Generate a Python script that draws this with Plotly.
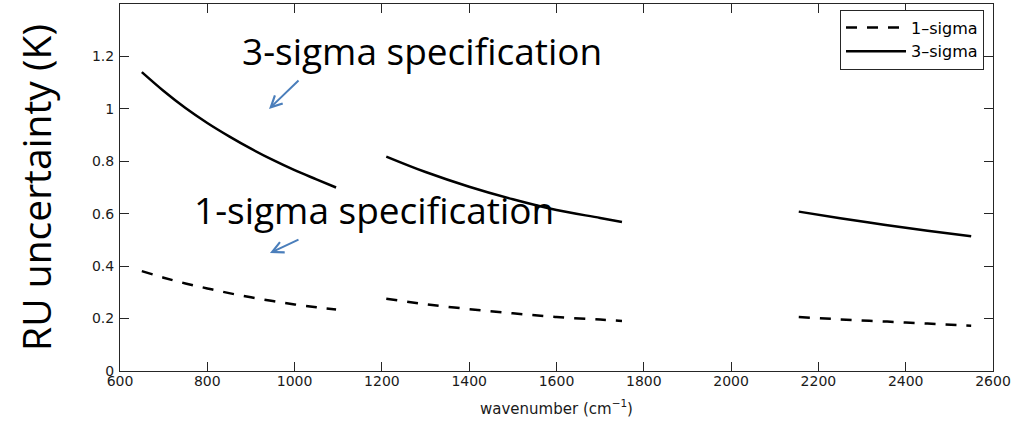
import plotly.graph_objects as go

# Band wavenumbers (cm^-1) and RU uncertainty values (K)
lw_x = [650, 700, 750, 800, 850, 900, 950, 1000, 1050, 1095]
mw_x = [1210, 1300, 1400, 1500, 1600, 1700, 1750]
sw_x = [2155, 2250, 2350, 2450, 2550]

sigma3_lw = [1.14, 1.068, 1.003, 0.946, 0.895, 0.848, 0.805, 0.766, 0.731, 0.70]
sigma3_mw = [0.818, 0.759, 0.703, 0.655, 0.614, 0.584, 0.568]
sigma3_sw = [0.608, 0.583, 0.558, 0.535, 0.514]

sigma1_lw = [0.381, 0.356, 0.334, 0.315, 0.297, 0.281, 0.267, 0.254, 0.243, 0.235]
sigma1_mw = [0.276, 0.255, 0.236, 0.220, 0.206, 0.196, 0.191]
sigma1_sw = [0.206, 0.197, 0.189, 0.181, 0.173]

x_ticks = [600, 800, 1000, 1200, 1400, 1600, 1800, 2000, 2200, 2400, 2600]
y_ticks = [0, 0.2, 0.4, 0.6, 0.8, 1, 1.2]
y_tick_text = ["0", "0.2", "0.4", "0.6", "0.8", "1", "1.2"]

AXC = "#262626"
SMALL = "DejaVu Sans, Liberation Sans, sans-serif"
TICKFONT = dict(family=SMALL, size=14, color="#1a1a1a")
BIG = "Open Sans, Lato, sans-serif"

fig = go.Figure()

def add_band(x, y, name, dash, show):
    fig.add_trace(go.Scatter(
        x=x, y=y, mode="lines", name=name, legendgroup=name, showlegend=show,
        line=dict(color="black", width=2.5, dash=dash, shape="spline", smoothing=1.0),
        hoverinfo="skip",
    ))

add_band(lw_x, sigma1_lw, "1–sigma", "11px,10px", True)
add_band(mw_x, sigma1_mw, "1–sigma", "11px,10px", False)
add_band(sw_x, sigma1_sw, "1–sigma", "11px,10px", False)
add_band(lw_x, sigma3_lw, "3–sigma", "solid", True)
add_band(mw_x, sigma3_mw, "3–sigma", "solid", False)
add_band(sw_x, sigma3_sw, "3–sigma", "solid", False)

fig.update_xaxes(
    range=[600, 2600], tickvals=x_ticks, ticks="inside", ticklen=9, tickcolor=AXC,
    showline=True, linecolor=AXC, linewidth=1, mirror="ticks", showgrid=False,
    zeroline=False, tickfont=TICKFONT, ticklabelstandoff=-3,
    title=dict(text="wavenumber (cm<sup>−1</sup>)", standoff=15,
               font=dict(family=SMALL, size=15, color="#1a1a1a")),
)
fig.update_yaxes(
    range=[0, 1.4], tickvals=y_ticks, ticktext=y_tick_text, ticks="inside", ticklen=9,
    tickcolor=AXC, showline=True, linecolor=AXC, linewidth=1, mirror="ticks",
    showgrid=False, zeroline=False, tickfont=TICKFONT, ticklabelstandoff=2,
    title=dict(text="RU uncertainty (K)", standoff=28,
               font=dict(family=BIG, size=39, color="black")),
)

fig.add_annotation(x=0.137, y=0.874, xref="paper", yref="paper", xanchor="left", yanchor="middle",
                   text="3-sigma specification", showarrow=False,
                   font=dict(family=BIG, size=37, color="black"))
fig.add_annotation(x=0.082, y=0.44, xref="paper", yref="paper", xanchor="left", yanchor="middle",
                   text="1-sigma specification", showarrow=False,
                   font=dict(family=BIG, size=37, color="black"))

ARROW = "#4a7ebb"
fig.add_annotation(x=0.1707, y=0.714, ax=31, ay=-30, xref="paper", yref="paper",
                   axref="pixel", ayref="pixel", text="", showarrow=True,
                   arrowhead=5, arrowsize=1.1, arrowwidth=2, arrowcolor=ARROW)
fig.add_annotation(x=0.1718, y=0.3215, ax=30, ay=-14, xref="paper", yref="paper",
                   axref="pixel", ayref="pixel", text="", showarrow=True,
                   arrowhead=5, arrowsize=1.1, arrowwidth=2, arrowcolor=ARROW)

fig.update_layout(
    width=1024, height=424,
    margin=dict(l=120, r=31, t=4, b=53),
    paper_bgcolor="white", plot_bgcolor="white",
    legend=dict(x=0.9897, y=0.985, xanchor="right", yanchor="top",
                bgcolor="white", bordercolor=AXC, borderwidth=1,
                font=dict(family=SMALL, size=16, color="black"),
                itemwidth=60, tracegroupgap=0),
    showlegend=True,
)

fig.write_html("out.html", config={"displayModeBar": False},
               post_script="document.body.style.margin='0';")
